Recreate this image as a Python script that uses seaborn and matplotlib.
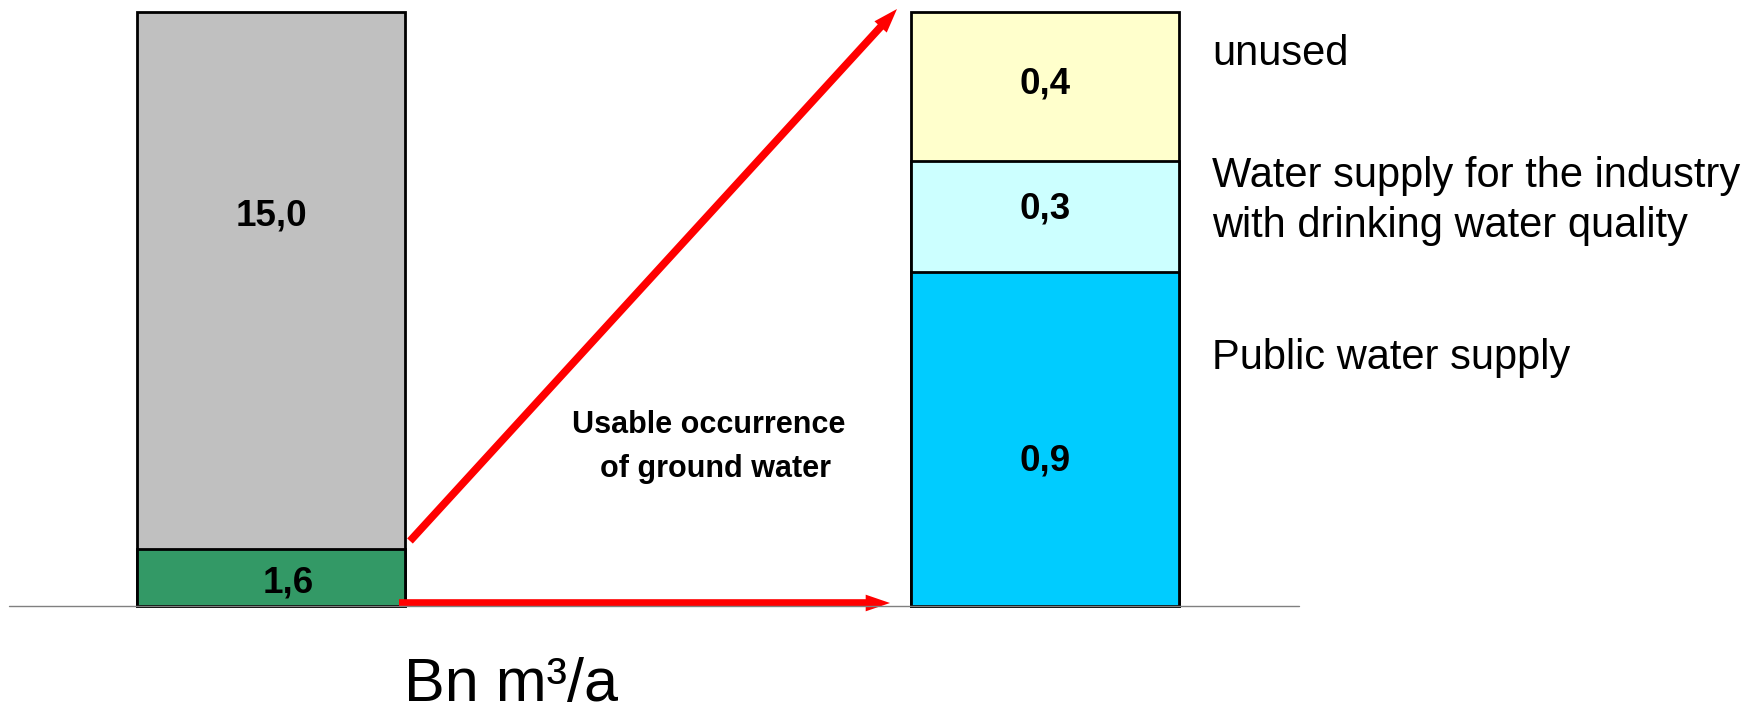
import matplotlib
matplotlib.use("Agg")
import matplotlib.pyplot as plt
import seaborn as sns
import pandas as pd
import numpy as np
from matplotlib.lines import Line2D
from matplotlib.patches import FancyArrowPatch

sns.set_theme(style="white")
plt.rcParams["font.family"] = ["Liberation Sans", "DejaVu Sans"]

# Ground water occurrence (Bn m³/a), stacked bottom to top
occurrence_segments = ["usable", "not usable"]
occurrence_values = [1.6, 15.0]
occurrence_colors = ["#339966", "#C0C0C0"]

# Use of the usable part (Bn m³/a), stacked bottom to top
use_segments = ["Public water supply",
                "Water supply for the industry\nwith drinking water quality",
                "unused"]
use_values = [0.9, 0.3, 0.4]
use_colors = ["#00CCFF", "#CCFFFF", "#FFFFCC"]

unit_label = "Bn m³/a"
arrow_label = ["Usable occurrence", "of ground water"]

W, H = 1751, 714
DPI = 100
fig = plt.figure(figsize=(W / DPI, H / DPI), dpi=DPI)
fig.patch.set_facecolor("white")


def fx(px):
    return px / W


def fy(py):
    return 1 - py / H


def fmt(v):
    return f"{v:.1f}".replace(".", ",")


def stacked_bar(ax, values, colors):
    cum = np.cumsum(values)
    # draw from the tallest cumulative total down so each segment overlays the next
    for i in range(len(values) - 1, -1, -1):
        df = pd.DataFrame({"col": ["total"], "height": [cum[i]]})
        sns.barplot(data=df, x="col", y="height", color=colors[i],
                    saturation=1, width=1, edgecolor="black",
                    linewidth=2.0, ax=ax, errorbar=None)
    for p in ax.patches:
        p.set_clip_on(False)
    ax.set_xlim(-0.5, 0.5)
    ax.set_ylim(0, cum[-1])
    ax.set_axis_off()
    return cum


bar_bottom, bar_top = 606, 12
ax_left = fig.add_axes([fx(137), fy(bar_bottom), fx(405) - fx(137),
                        (bar_bottom - bar_top) / H])
ax_right = fig.add_axes([fx(911), fy(bar_bottom), fx(1179) - fx(911),
                         (bar_bottom - bar_top) / H])

stacked_bar(ax_left, occurrence_values, occurrence_colors)
stacked_bar(ax_right, use_values, use_colors)

# value labels inside the segments
left_label_pos = [(0.063, 0.64), (0.0, 10.9)]
for v, (x, y) in zip(occurrence_values, left_label_pos):
    ax_left.text(x, y, fmt(v), ha="center", va="center",
                 fontsize=26.5, fontweight="bold", color="black")

right_label_y = [0.39, 1.07, 1.405]
for v, y in zip(use_values, right_label_y):
    ax_right.text(0, y, fmt(v), ha="center", va="center",
                  fontsize=26.5, fontweight="bold", color="black")

# category names to the right of the usage bar
name_pos_px = [358, 201, 54]
for name, py in zip(use_segments, name_pos_px):
    fig.text(fx(1212), fy(py), name, ha="left", va="center",
             fontsize=30, color="black", linespacing=1.3)

# baseline
fig.add_artist(Line2D([fx(9), fx(1299)], [fy(606), fy(606)],
                      color="#808080", linewidth=1.0))

# red arrows linking the usable part to its breakdown
arrow_kw = dict(arrowstyle="simple,head_length=1.75,head_width=1.2,tail_width=0.55",
                mutation_scale=10, color="#FF0000", linewidth=0,
                transform=fig.transFigure, shrinkA=0, shrinkB=0)
fig.add_artist(FancyArrowPatch((fx(410), fy(541)), (fx(897), fy(9)), **arrow_kw))
fig.add_artist(FancyArrowPatch((fx(399), fy(603)), (fx(890), fy(603)), **arrow_kw))

fig.text(fx(709), fy(425), arrow_label[0], ha="center", va="center",
         fontsize=22, fontweight="bold", color="black")
fig.text(fx(715), fy(469), arrow_label[1], ha="center", va="center",
         fontsize=22, fontweight="bold", color="black")

fig.text(fx(511), fy(701), unit_label, ha="center", va="baseline",
         fontsize=44, color="black")

fig.savefig("out.png", dpi=DPI, facecolor="white")
